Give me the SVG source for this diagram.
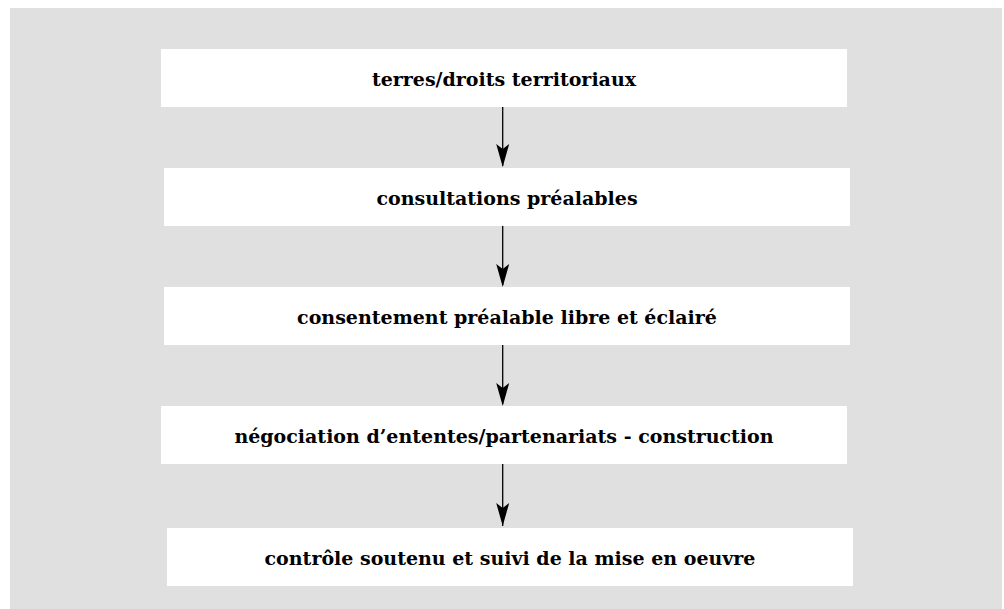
<svg xmlns="http://www.w3.org/2000/svg" width="1004" height="609" viewBox="0 0 1004 609">
<style>
.box{fill:#ffffff}
.lbl{font-family:"DejaVu Serif","Liberation Serif",serif;font-weight:bold;font-size:19px;fill:#000;text-anchor:middle}
.conn{stroke:#000;stroke-width:1.3;fill:none}
.head{fill:#000}
</style>
<rect x="0" y="0" width="1004" height="609" fill="#ffffff"/>
<rect x="10" y="8" width="992" height="601" fill="#e0e0e0"/>
<g id="connectors">
<line class="conn" x1="502.7" y1="107" x2="502.7" y2="166"/>
<line class="conn" x1="502.7" y1="226" x2="502.7" y2="285"/>
<line class="conn" x1="502.7" y1="345" x2="502.7" y2="404"/>
<line class="conn" x1="502.7" y1="464" x2="502.7" y2="526"/>
<path class="head" d="M496.2,144 L502.7,167 L509.2,144 L502.7,149 Z"/>
<path class="head" d="M496.2,264 L502.7,287 L509.2,264 L502.7,269 Z"/>
<path class="head" d="M496.2,383 L502.7,406 L509.2,383 L502.7,388 Z"/>
<path class="head" d="M496.2,503 L502.7,526 L509.2,503 L502.7,508 Z"/>
</g>
<g id="n1"><rect class="box" x="161" y="49" width="686" height="58"/><text class="lbl" x="504" y="85.5">terres/droits territoriaux</text></g>
<g id="n2"><rect class="box" x="164" y="168" width="686" height="58"/><text class="lbl" x="507" y="204.5">consultations préalables</text></g>
<g id="n3"><rect class="box" x="164" y="287" width="686" height="58"/><text class="lbl" x="507" y="323.5">consentement préalable libre et éclairé</text></g>
<g id="n4"><rect class="box" x="161" y="406" width="686" height="58"/><text class="lbl" x="504" y="442.5">négociation d’ententes/partenariats - construction</text></g>
<g id="n5"><rect class="box" x="167" y="528" width="686" height="58"/><text class="lbl" x="510" y="564.5">contrôle soutenu et suivi de la mise en oeuvre</text></g>
</svg>
